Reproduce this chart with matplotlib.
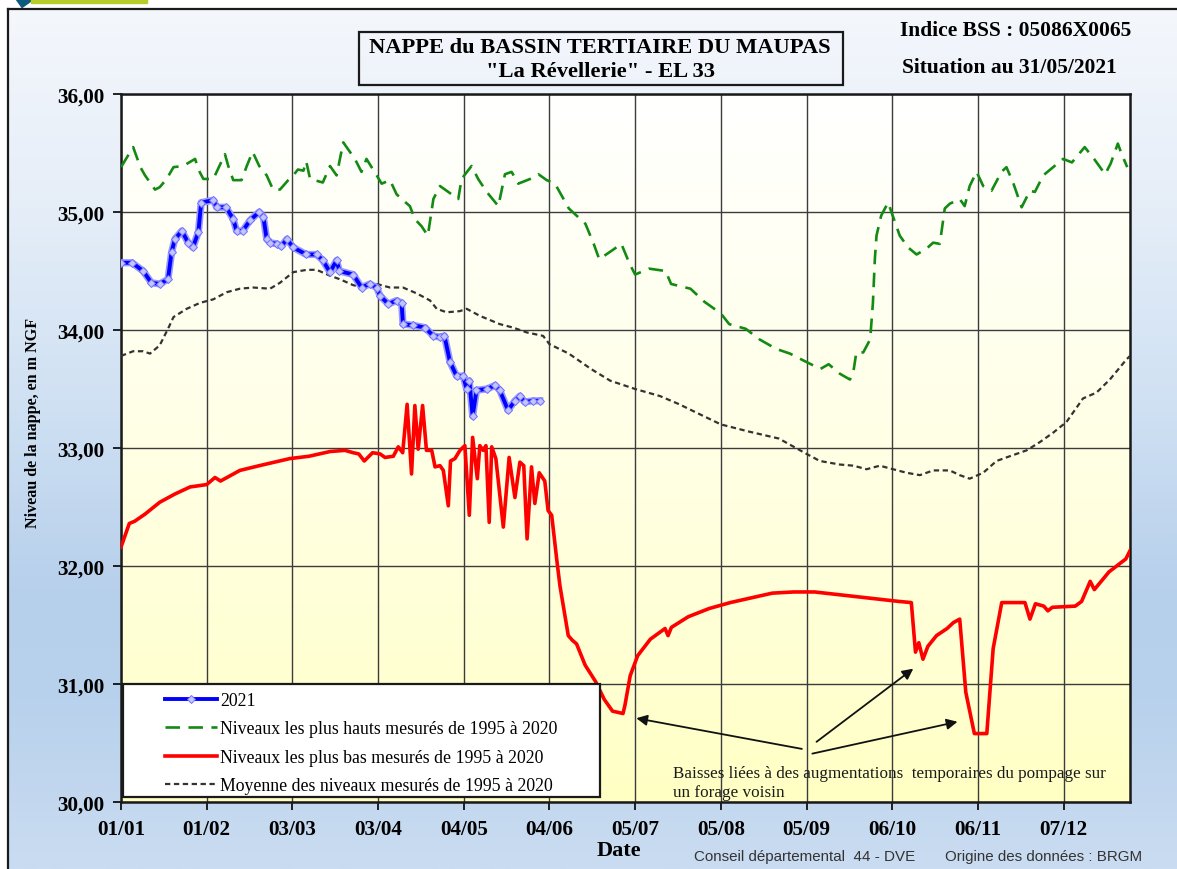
import numpy as np
import matplotlib
matplotlib.use('Agg')
import matplotlib.pyplot as plt
from matplotlib.patches import Rectangle, Polygon
from matplotlib.colors import to_rgb

# ---------------- data ----------------
tick_labels = ['01/01', '01/02', '03/03', '03/04', '04/05', '04/06',
               '05/07', '05/08', '05/09', '06/10', '06/11', '07/12']
ytick_labels = ['30,00', '31,00', '32,00', '33,00', '34,00', '35,00', '36,00']

# 2021 (day of year, level m NGF)
y2021_days = [0, 4, 8, 11, 14, 17, 18.3, 19.5, 22, 24.3, 26, 28, 29, 33.4, 34.6, 38,
              40.6, 41.8, 44, 46.7, 50, 51.5, 52.7, 54, 56.3, 58, 60, 62.3, 67, 70.8,
              73, 75.6, 78, 79, 84, 87, 90, 92.5, 93.7, 96.7, 99.7, 101.5, 102, 105.7,
              110, 113, 115.4, 117, 119, 121.4, 123.8, 125, 126, 127.2, 128.6, 132.3,
              135.3, 137, 140, 142.5, 144.3, 146, 149, 151.5]
y2021_vals = [34.57, 34.57, 34.50, 34.40, 34.39, 34.43, 34.66, 34.77, 34.84, 34.74,
              34.70, 34.83, 35.08, 35.10, 35.04, 35.04, 34.94, 34.84, 34.84, 34.93,
              35.00, 34.96, 34.77, 34.74, 34.73, 34.71, 34.77, 34.70, 34.64, 34.64,
              34.59, 34.49, 34.59, 34.50, 34.47, 34.36, 34.39, 34.36, 34.29, 34.22,
              34.25, 34.23, 34.05, 34.04, 34.02, 33.95, 33.94, 33.95, 33.73, 33.61,
              33.61, 33.50, 33.57, 33.27, 33.49, 33.50, 33.53, 33.49, 33.32, 33.40,
              33.44, 33.39, 33.40, 33.40]

high_pts = [(0, 35.38), (4.4, 35.55), (7, 35.38), (8.7, 35.31), (12.3, 35.19), (14, 35.21),
            (16.5, 35.28), (19, 35.38), (22.5, 35.39), (26.8, 35.45), (28, 35.36), (29.8, 35.28),
            (33.4, 35.28), (37.6, 35.49), (38.8, 35.39), (40.6, 35.27), (43.6, 35.27), (45.5, 35.39),
            (47.6, 35.51), (50, 35.39), (52.7, 35.31), (55, 35.19), (57.5, 35.19), (60.5, 35.27),
            (62.3, 35.31), (64, 35.36), (66, 35.35), (67, 35.43), (68.4, 35.28), (73, 35.25),
            (75.6, 35.39), (78, 35.31), (80.4, 35.59), (84.6, 35.45), (87, 35.34), (88.8, 35.45),
            (92.5, 35.31), (94.3, 35.24), (97.3, 35.27), (99.7, 35.15), (102, 35.10), (104.5, 35.05),
            (106.3, 34.94), (108.7, 34.88), (111, 34.80), (113, 35.11), (115.4, 35.22), (118.4, 35.17),
            (122, 35.11), (123.2, 35.28), (126.8, 35.39), (129.2, 35.28), (132.3, 35.17), (136.5, 35.05),
            (138.9, 35.32), (141.3, 35.34), (143.7, 35.24), (148, 35.28), (151, 35.32), (154, 35.27),
            (157, 35.24), (162, 35.03), (168, 34.90), (171, 34.73), (173, 34.60), (178, 34.68),
            (181, 34.73), (184, 34.56), (186, 34.47), (191, 34.52), (197, 34.50), (199, 34.39),
            (206, 34.35), (211, 34.24), (217, 34.14), (220, 34.05), (226, 34.01), (231, 33.92),
            (237, 33.84), (242, 33.80), (247, 33.74), (253, 33.67), (256, 33.71), (260, 33.63),
            (263.7, 33.58), (264.9, 33.64), (266, 33.81), (268.5, 33.81), (271, 33.92), (272, 34.23),
            (272.7, 34.60), (273.3, 34.80), (275, 34.97), (277.5, 35.08), (278.7, 35.00), (281.7, 34.80),
            (284.7, 34.70), (287.8, 34.64), (291.4, 34.69), (293.8, 34.74), (296.2, 34.73), (298, 35.03),
            (299.8, 35.07), (303.4, 35.11), (305.2, 35.05), (307, 35.22), (309.5, 35.34), (311.9, 35.22),
            (314.9, 35.18), (318.5, 35.34), (320.3, 35.38), (322.7, 35.25), (325.8, 35.04), (328.8, 35.18),
            (330.6, 35.17), (333.6, 35.31), (337.2, 35.38), (340.8, 35.45), (344, 35.42), (348.6, 35.55),
            (352, 35.45), (356, 35.32), (358, 35.41), (360.6, 35.58), (362, 35.49), (364, 35.38)]

low_pts = [(0, 32.16), (3, 32.36), (5, 32.38), (8.7, 32.44), (14, 32.54), (19.5, 32.61), (25, 32.67),
           (31, 32.69), (34, 32.75), (36, 32.72), (43, 32.81), (50, 32.85), (61, 32.91), (68, 32.93),
           (75.6, 32.97), (81, 32.98), (84, 32.96), (86, 32.95), (88, 32.89), (91, 32.96), (93.7, 32.95),
           (95.5, 32.92), (98.5, 32.93), (100.3, 33.01), (101.9, 32.96), (103.5, 33.37), (105.1, 32.78),
           (106.3, 33.36), (107.5, 32.99), (109.1, 33.36), (110.5, 32.98), (112.4, 32.98), (113.6, 32.84),
           (115.4, 32.85), (116.6, 32.81), (118.4, 32.51), (119.2, 32.89), (120.8, 32.91), (122.6, 32.98),
           (124.4, 33.02), (126, 32.43), (127.2, 33.09), (128.9, 32.74), (129.8, 33.02), (131, 32.98),
           (132, 33.02), (133.2, 32.37), (134.1, 33.01), (135.6, 32.91), (138.3, 32.33), (140.4, 32.92),
           (142.5, 32.58), (144.3, 32.88), (145.7, 32.85), (146.9, 32.23), (148.5, 32.84), (149.7, 32.53),
           (151.3, 32.79), (153.3, 32.72), (154.5, 32.47), (155.8, 32.43), (157.6, 32.06), (158.8, 31.83),
           (161.8, 31.41), (163.3, 31.37), (164.8, 31.34), (167.9, 31.16), (171.7, 31.02), (174.8, 30.87),
           (177.8, 30.77), (181.6, 30.75), (182.3, 30.82), (184.2, 31.07), (186.9, 31.24), (191.5, 31.38),
           (196.8, 31.47), (197.9, 31.41), (199.1, 31.48), (205.2, 31.57), (212.8, 31.64), (220.4, 31.69),
           (228, 31.73), (235.6, 31.77), (243.3, 31.78), (250.9, 31.78), (258.5, 31.76), (266.1, 31.74),
           (273.7, 31.72), (281.3, 31.70), (285.9, 31.69), (287.4, 31.27), (288.6, 31.35), (290.1, 31.21),
           (291.9, 31.32), (295, 31.41), (298.8, 31.47), (301.1, 31.52), (303.4, 31.55), (305.6, 30.93),
           (308.7, 30.58), (313.2, 30.58), (315.5, 31.30), (318.6, 31.69), (327, 31.69), (328.8, 31.55),
           (330.8, 31.68), (333.8, 31.66), (335.3, 31.62), (336.9, 31.65), (345.2, 31.66), (347.5, 31.70),
           (350.6, 31.87), (352.1, 31.80), (357.4, 31.95), (363.5, 32.06), (365, 32.13)]

mean_pts = [(0, 33.78), (4.4, 33.82), (8, 33.82), (10.5, 33.80), (14, 33.87), (17, 34.01), (19, 34.11),
            (23.8, 34.18), (28.6, 34.23), (33.4, 34.26), (38.2, 34.32), (43, 34.35), (47.8, 34.36),
            (53.9, 34.35), (57.5, 34.40), (62.3, 34.49), (67.2, 34.51), (70.8, 34.51), (75.6, 34.46),
            (79.2, 34.43), (84, 34.38), (87.6, 34.36), (92.5, 34.39), (97.3, 34.36), (102, 34.36),
            (107, 34.31), (111.8, 34.25), (114.2, 34.18), (117.8, 34.15), (122.6, 34.16), (125, 34.18),
            (129.8, 34.12), (137, 34.05), (141.9, 34.02), (146.7, 33.98), (152.7, 33.95), (155, 33.88),
            (162, 33.80), (170, 33.67), (177, 33.57), (186, 33.50), (195, 33.44), (202, 33.37), (209, 33.29),
            (217, 33.20), (227, 33.14), (238, 33.08), (248, 32.95), (252.8, 32.89), (260, 32.86),
            (265, 32.85), (269.7, 32.82), (274.5, 32.85), (279.3, 32.82), (284.2, 32.79), (289, 32.77),
            (293.8, 32.81), (299.8, 32.81), (303.4, 32.77), (307, 32.74), (311.9, 32.79), (316.7, 32.89),
            (321.5, 32.93), (327.6, 32.98), (332.4, 33.05), (337.2, 33.13), (342, 33.22), (348, 33.42),
            (352.9, 33.47), (357.7, 33.58), (363.7, 33.75), (365, 33.78)]

# ---------------- figure ----------------
W, H = 1177, 870
SERIF = ['Liberation Serif', 'DejaVu Serif']
SANS = ['Liberation Sans', 'DejaVu Sans']
fig = plt.figure(figsize=(W / 100, H / 100), dpi=100)
fig.patch.set_facecolor('white')

def fx(px):
    return px / W

def fy(py):
    return 1 - py / H

# background panel (pixel coordinates, y downward)
bg = fig.add_axes([0, 0, 1, 1], zorder=-5)
bg.set_xlim(0, W)
bg.set_ylim(H, 0)
bg.axis('off')
stop_y = [10, 200, 400, 600, 700, 870]
stop_c = ['#f4f7fc', '#e6eef8', '#d0e1f3', '#b6cfeb', '#b8d1ec', '#cadcf1']
yy = np.linspace(10, H, 400)
cols = np.array([to_rgb(c) for c in stop_c])
grad = np.stack([np.interp(yy, stop_y, cols[:, k]) for k in range(3)], axis=-1)[:, None, :]
bg.imshow(grad, extent=(8, W, H, 10), aspect='auto', interpolation='bilinear', zorder=0)
bg.plot([8, 8], [H, 10], color='#1a1a1a', lw=1.6, zorder=2)
bg.plot([8, W], [10, 10], color='#1a1a1a', lw=1.6, zorder=2)
# cropped logo at top left
bg.add_patch(Polygon([(16, 0), (34, 0), (22, 8.5)], closed=True, color='#0d5a7a', zorder=3))
bg.add_patch(Rectangle((31, 0), 116, 3.5, color='#b8cc2a', zorder=3))
bg.set_xlim(0, W)
bg.set_ylim(H, 0)

# title box
bg.add_patch(Rectangle((359, 33), 484, 53, fill=False, ec='#1a1a1a', lw=1.6, zorder=3))
fig.text(fx(600), fy(48), 'NAPPE du BASSIN TERTIAIRE DU MAUPAS', ha='center', va='center',
         fontsize=16.2, fontweight='bold', family=SERIF)
fig.text(fx(600), fy(72), '"La Révellerie" - EL 33', ha='center', va='center',
         fontsize=16.2, fontweight='bold', family=SERIF)
fig.text(fx(900), fy(31), 'Indice BSS : 05086X0065', ha='left', va='center',
         fontsize=15.5, fontweight='bold', family=SERIF)
fig.text(fx(902), fy(68), 'Situation au 31/05/2021', ha='left', va='center',
         fontsize=15.5, fontweight='bold', family=SERIF)

# main axes
L, R, T, B = 121, 1130, 95, 803
ax = fig.add_axes([fx(L), fy(B), (R - L) / W, (B - T) / H])
ax.set_xlim(0, 365)
ax.set_ylim(30, 36)

pg = np.linspace(0, 1, 300)
c_bot = np.array(to_rgb('#ffffc2'))
c_top = np.array(to_rgb('#ffffff'))
mix = np.clip(pg, 0, 1) ** 0.8
area = (c_bot[None, :] * (1 - mix[:, None]) + c_top[None, :] * mix[:, None])[:, None, :]
ax.imshow(area, extent=(0, 365, 30, 36), origin='lower', aspect='auto', zorder=-1,
          interpolation='bilinear')

ax.set_xticks(np.arange(len(tick_labels)) * 31)
ax.set_xticklabels(tick_labels)
ax.set_yticks(np.arange(30, 30 + len(ytick_labels)))
ax.set_yticklabels(ytick_labels)
ax.grid(True, color='#3c3c3c', lw=1.0)
ax.set_axisbelow(True)
for s in ax.spines.values():
    s.set_linewidth(1.8)
    s.set_color('#1a1a1a')
ax.tick_params(axis='x', direction='out', length=6, width=1.2, pad=6)
ax.tick_params(axis='y', direction='out', length=6, width=1.2, pad=6)
for lab in ax.get_xticklabels() + ax.get_yticklabels():
    lab.set_fontfamily(SERIF)
    lab.set_fontweight('bold')
    lab.set_fontsize(15.2)

ax.set_xlabel('Date', fontsize=16, fontweight='bold', family=SERIF, labelpad=2)
ax.set_ylabel('Niveau de la nappe, en m NGF', fontsize=11.6, fontweight='bold', family=SERIF)
ax.yaxis.set_label_coords((41 - L) / (R - L), 0.5 + (450 - 424) / (B - T))
ax.xaxis.set_label_coords((619 - L) / (R - L), -(841 - B) / (B - T))

hd, hv = np.array(high_pts).T
ld, lv = np.array(low_pts).T
md, mv = np.array(mean_pts).T

l_high, = ax.plot(hd, hv, color='#138a13', lw=1.9, dashes=(5.5, 3.2), zorder=3)
l_low, = ax.plot(ld, lv, color='#ff0000', lw=2.6, zorder=3)
l_mean, = ax.plot(md, mv, color='#333333', lw=1.6, dashes=(2.4, 1.6), zorder=3)
ax.plot(y2021_days, y2021_vals, color='#9a9aff', lw=5.2, zorder=4, solid_joinstyle='round')
l_2021, = ax.plot(y2021_days, y2021_vals, color='#0000ff', lw=2.8, marker='D', ms=4,
                  mfc='#c4c4ff', mec='#7070ff', mew=0.7, zorder=5)

# legend
ax.add_patch(Rectangle(((123 - L) / (R - L), (B - 798) / (B - T)), (600 - 123) / (R - L),
                       (798 - 685) / (B - T), transform=ax.transAxes, fc='white',
                       ec='#1a1a1a', lw=1.6, zorder=8))
leg = ax.legend([l_2021, l_high, l_low, l_mean],
                ['2021', 'Niveaux les plus hauts mesurés de 1995 à 2020',
                 'Niveaux les plus bas mesurés de 1995 à 2020',
                 'Moyenne des niveaux mesurés de 1995 à 2020'],
                loc='upper left', bbox_to_anchor=((165 - L) / (R - L), (B - 693) / (B - T)),
                frameon=False, borderpad=0, borderaxespad=0, handlelength=2.9,
                handletextpad=0.2, labelspacing=0.64, prop={'family': SERIF, 'size': 12.8})
leg.set_zorder(9)

# annotation
note = 'Baisses liées à des augmentations  temporaires du pompage sur\nun forage voisin'
ax.text(199.6, 30.31, note, ha='left', va='top', fontsize=12.3, family=SERIF,
        color='#1a1a1a', linespacing=1.2, zorder=6)
arrow_kw = dict(arrowstyle='-|>', color='#111111', lw=1.3, mutation_scale=16,
                shrinkA=0, shrinkB=0)
ax.annotate('', xy=(186.4, 30.71), xytext=(246.3, 30.45), arrowprops=arrow_kw, zorder=6)
ax.annotate('', xy=(286.6, 31.13), xytext=(251.6, 30.51), arrowprops=arrow_kw, zorder=6)
ax.annotate('', xy=(302.6, 30.68), xytext=(250.1, 30.41), arrowprops=arrow_kw, zorder=6)

# footer
fig.text(fx(694), fy(857), 'Conseil départemental  44 - DVE', ha='left', va='center',
         fontsize=10.9, family=SANS, color='#333333')
fig.text(fx(945), fy(857), 'Origine des données : BRGM', ha='left', va='center',
         fontsize=10.9, family=SANS, color='#333333')

fig.savefig('out.png', dpi=100)
